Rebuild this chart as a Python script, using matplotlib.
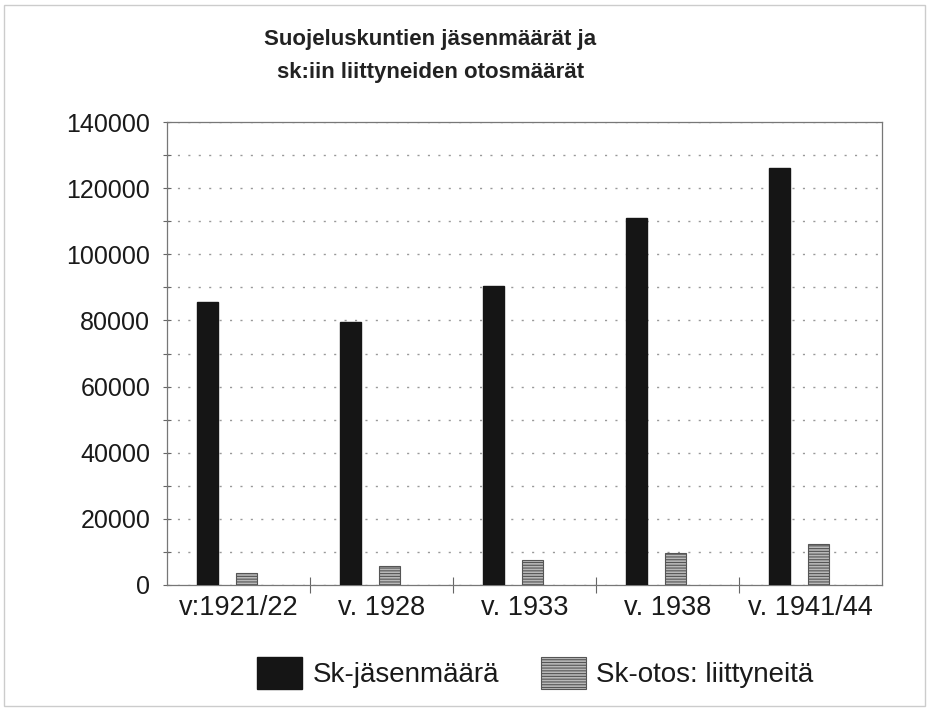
import numpy as np
import matplotlib.pyplot as plt
from matplotlib.patches import Rectangle
from matplotlib.ticker import MultipleLocator

plt.rcParams['font.family'] = ['Liberation Sans', 'DejaVu Sans']
plt.rcParams['hatch.linewidth'] = 0.8

# Datos
vuodet = ['v:1921/22', 'v. 1928', 'v. 1933', 'v. 1938', 'v. 1941/44']
jasenmaara = [85500, 79500, 90500, 111000, 126000]
liittyneita = [3700, 5700, 7500, 9600, 12500]

fig = plt.figure(figsize=(9.29, 7.09), dpi=100)
ax = fig.add_axes([0.1798, 0.1749, 0.7696, 0.6530])

x = np.arange(len(vuodet))
w = 0.147
ax.bar(x - 0.217, jasenmaara, width=w, color='#151515', edgecolor='#151515',
       label='Sk-jäsenmäärä', zorder=3)
ax.bar(x + 0.056, liittyneita, width=w, color='#b8b8b8', edgecolor='#555555',
       hatch='------', linewidth=0.8, label='Sk-otos: liittyneitä', zorder=3)

ax.set_xlim(-0.5, len(vuodet) - 0.5)
ax.set_ylim(0, 140000)
ax.yaxis.set_major_locator(MultipleLocator(20000))
ax.yaxis.set_minor_locator(MultipleLocator(10000))
ax.set_yticks(np.arange(0, 140001, 20000))
ax.set_yticklabels([str(v) for v in range(0, 140001, 20000)])
ax.tick_params(axis='y', which='major', labelsize=18, direction='inout',
               length=6, width=0.8, color='#666666', pad=9,
               labelcolor='#1a1a1a')
ax.tick_params(axis='y', which='minor', direction='inout', length=6,
               width=0.8, color='#666666')

# Kategoriat ja jakoviivat
ax.set_xticks(x)
ax.set_xticklabels(vuodet)
ax.tick_params(axis='x', which='major', labelsize=19.5, length=0, pad=7,
               labelcolor='#1a1a1a')
ax.set_xticks(np.arange(0.5, len(vuodet) - 0.5, 1.0), minor=True)
ax.tick_params(axis='x', which='minor', direction='inout', length=12,
               width=0.8, color='#666666')

ax.grid(axis='y', which='both', linestyle=(0, (1.5, 6)), color='#999999',
        linewidth=1.0, zorder=0)

for s in ax.spines.values():
    s.set_color('#777777')
    s.set_linewidth(0.9)

fig.text(0.463, 0.921, 'Suojeluskuntien jäsenmäärät ja\nsk:iin liittyneiden otosmäärät',
         ha='center', va='center', fontsize=16, fontweight='bold',
         color='#222222', linespacing=1.75)

fig.legend(loc='center', bbox_to_anchor=(0.576, 0.051), ncol=2, frameon=False,
           fontsize=20, handlelength=1.62, handleheight=1.4, columnspacing=1.5,
           handletextpad=0.37, labelcolor='#1a1a1a')

# Kehys koko kuvan ympärillä
fig.patches.append(Rectangle((0.004, 0.004), 0.992, 0.989, transform=fig.transFigure,
                             fill=False, edgecolor='#cccccc', linewidth=1.0))

fig.savefig('out.png', dpi=100)
